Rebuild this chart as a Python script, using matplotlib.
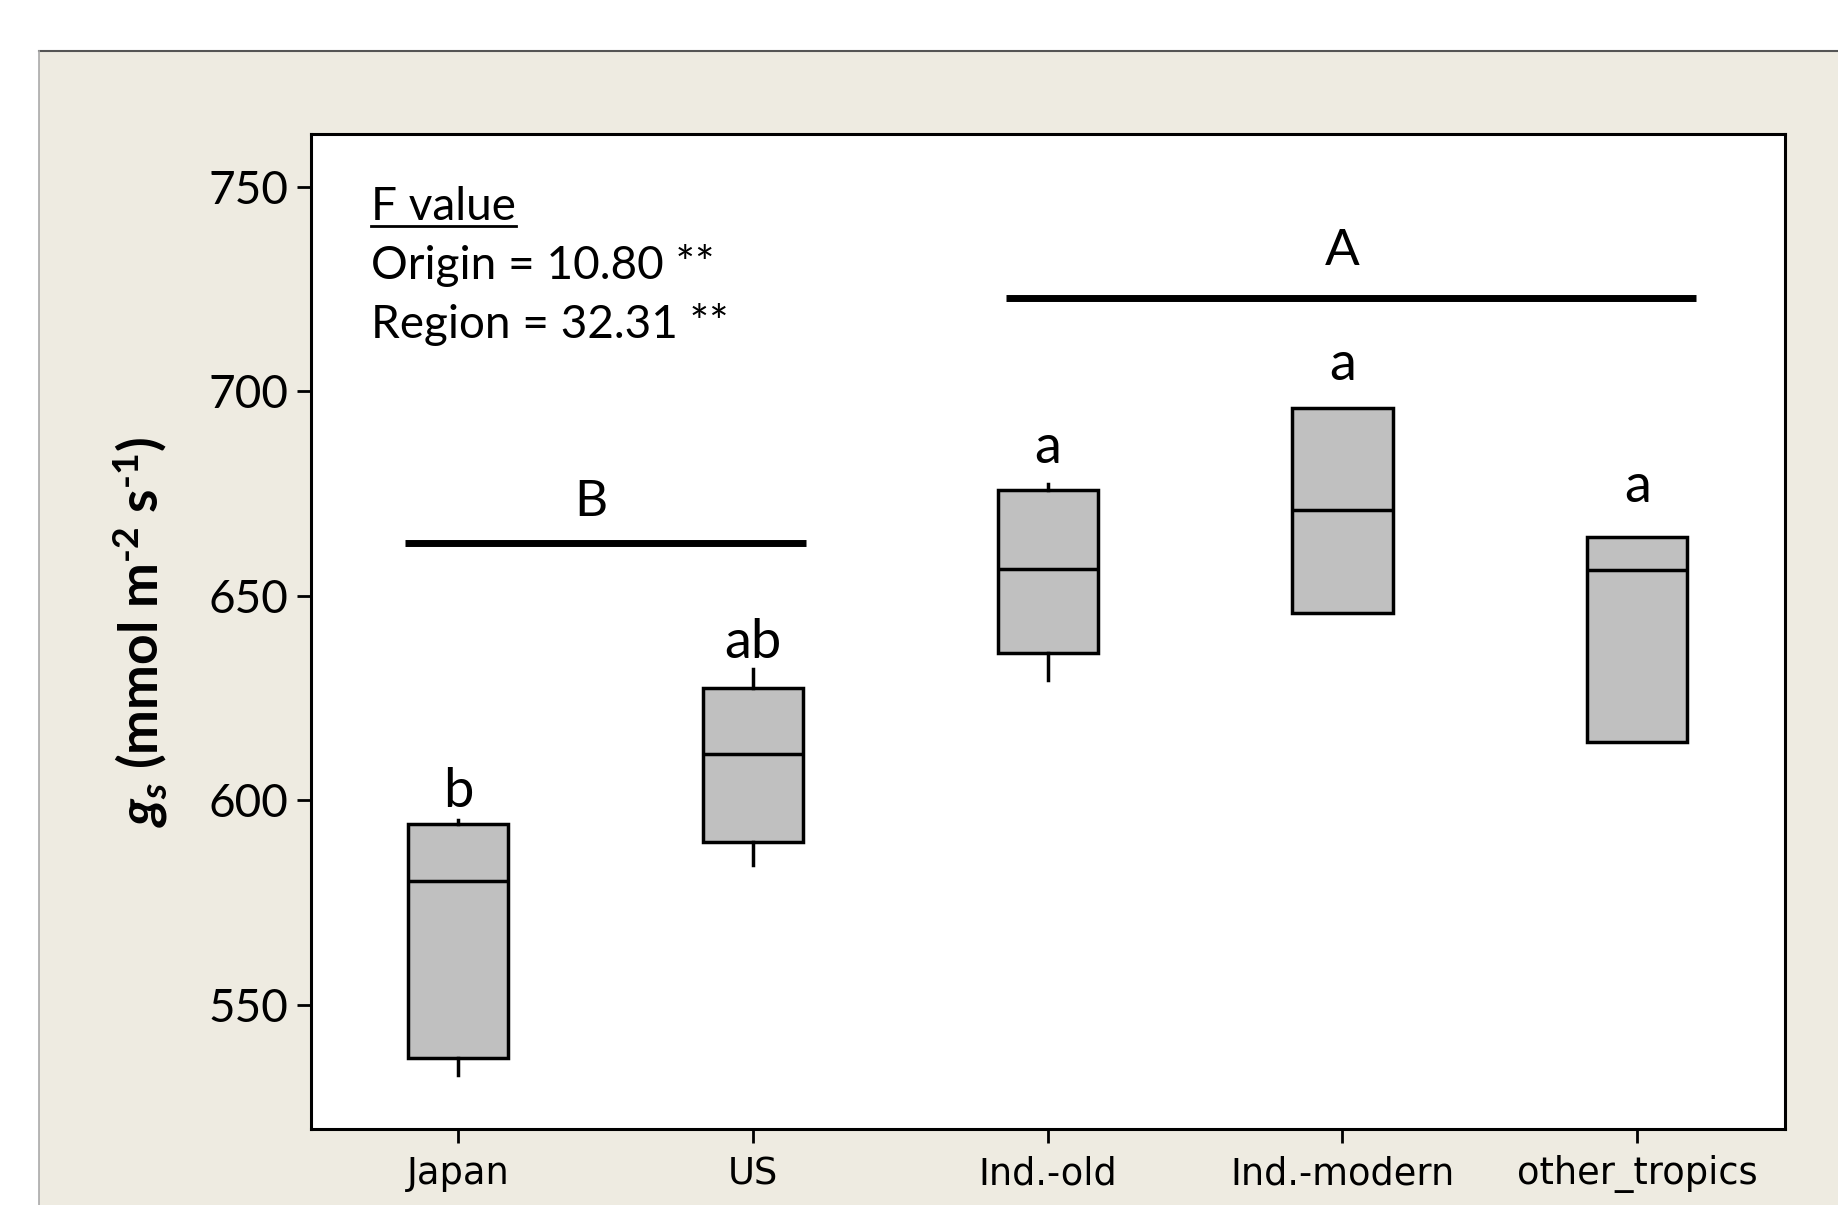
import matplotlib
matplotlib.use('Agg')
import matplotlib.pyplot as plt
from matplotlib.patches import Rectangle
from matplotlib.lines import Line2D

# stomatal conductance by origin group
groups = ['Japan', 'US', 'Ind.-old', 'Ind.-modern', 'other_tropics']
q1 = [536.8, 589.8, 636.0, 645.7, 614.2]
med = [580.1, 611.3, 656.6, 670.9, 656.3]
q3 = [594.1, 627.4, 675.8, 695.8, 664.3]
whis_lo = [532.8, 584.1, 629.4, 645.7, 614.2]
whis_hi = [595.0, 632.0, 677.2, 695.8, 664.3]

# multiple comparison letters
letters = ['b', 'ab', 'a', 'a', 'a']
letter_y = [602.1, 638.5, 686.1, 706.4, 676.6]

# region groups (bar start, bar end, bar level, label)
region_labels = ['B', 'A']
region_x0 = [-0.18, 1.86]
region_x1 = [1.18, 4.20]
region_y = [662.9, 722.8]
region_label_x = [0.45, 3.0]
region_label_y = [672.9, 734.2]

f_lines = ['Origin = 10.80 **', 'Region = 32.31 **']

plt.rcParams['mathtext.fontset'] = 'custom'
plt.rcParams['mathtext.rm'] = 'Lato:bold'
plt.rcParams['mathtext.it'] = 'Lato:bold:italic'
plt.rcParams['mathtext.bf'] = 'Lato:bold'

fig = plt.figure(figsize=(18.38, 12.05), dpi=100)
fig.patch.set_facecolor('white')
# beige panel with grey frame lines
fig.patches.append(Rectangle((39 / 1838, 0), 1 - 39 / 1838, 1 - 51 / 1205,
                             transform=fig.transFigure, facecolor='#eeebe1',
                             edgecolor='none', zorder=-5))
fig.lines.append(Line2D([39 / 1838, 1], [1 - 51 / 1205, 1 - 51 / 1205],
                        transform=fig.transFigure, color='#555555', lw=1.5,
                        zorder=-4))
fig.lines.append(Line2D([39 / 1838, 39 / 1838], [0, 1 - 51 / 1205],
                        transform=fig.transFigure, color='#aaaaaa', lw=1.2,
                        zorder=-4))

ax = fig.add_axes([0.169, 0.0632, 0.802, 0.8258])
ax.set_facecolor('white')

stats = []
for i in range(len(groups)):
    stats.append({'label': groups[i], 'q1': q1[i], 'med': med[i], 'q3': q3[i],
                  'whislo': whis_lo[i], 'whishi': whis_hi[i], 'fliers': []})

ax.bxp(stats, positions=range(len(groups)), widths=0.34, patch_artist=True,
       showcaps=False, showfliers=False,
       boxprops=dict(facecolor='#c0c0c0', edgecolor='black', linewidth=2.5),
       medianprops=dict(color='black', linewidth=2.5),
       whiskerprops=dict(color='black', linewidth=2.5))

ax.set_xlim(-0.5, 4.5)
ax.set_ylim(519.6, 762.9)
ax.set_yticks([550, 600, 650, 700, 750])
ax.set_xticks(range(len(groups)))
ax.set_xticklabels(groups, fontname='DejaVu Sans', fontsize=26.5)
for t in ax.get_yticklabels():
    t.set_fontname('Lato')
    t.set_fontsize(33)
ax.tick_params(axis='both', direction='out', length=10, width=2, color='black')
ax.tick_params(axis='x', pad=9)
ax.tick_params(axis='y', pad=6)
for s in ax.spines.values():
    s.set_linewidth(2.2)

ax.set_ylabel(r'$g_s$ (mmol m$^{\text{-2}}$ s$^{\text{-1}}$)', fontname='Lato',
              fontweight='bold', fontsize=38.5, labelpad=28)

for i in range(len(groups)):
    ax.text(i, letter_y[i], letters[i], ha='center', va='center',
            fontname='Lato', fontsize=39)

for i in range(len(region_labels)):
    ax.plot([region_x0[i], region_x1[i]], [region_y[i], region_y[i]],
            color='black', lw=5, solid_capstyle='butt')
    ax.text(region_label_x[i], region_label_y[i], region_labels[i],
            ha='center', va='center', fontname='Lato', fontsize=37)

ftitle = ax.text(-0.294, 745.1, 'F value', ha='left', va='center',
                 fontname='Lato', fontsize=33)
ax.text(-0.294, 730.8, f_lines[0], ha='left', va='center',
        fontname='Lato', fontsize=33)
ax.text(-0.294, 716.2, f_lines[1], ha='left', va='center',
        fontname='Lato', fontsize=33)

# underline the F value heading
fig.canvas.draw()
bb = ftitle.get_window_extent()
inv = fig.transFigure.inverted()
(x0, y0), (x1, _) = inv.transform([(bb.x0, bb.y0 + 2), (bb.x1, bb.y0)])
fig.lines.append(Line2D([x0, x1], [y0, y0], transform=fig.transFigure,
                        color='black', lw=2))

fig.savefig('out.png', dpi=100)
